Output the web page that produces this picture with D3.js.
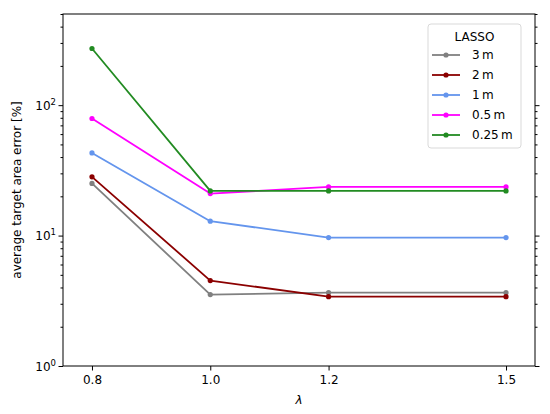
<!DOCTYPE html>
<html><head><meta charset="utf-8">
<script src="https://cdn.jsdelivr.net/npm/d3@7"></script>
<style>body{margin:0;background:#fff}svg{display:block}text{font-family:"DejaVu Sans",sans-serif}</style>
</head><body><svg id="c" width="550" height="414"></svg>
<script>
const lambdas = [0.8, 1.0, 1.2, 1.5];
const seriesNames = ["3\u2009m", "2\u2009m", "1\u2009m", "0.5\u2009m", "0.25\u2009m"];
const seriesColors = ["#808080", "#8b0000", "#6495ed", "#ff00ff", "#228b22"];
const err3m = [25.1, 3.53, 3.65, 3.65];
const err2m = [28.2, 4.52, 3.40, 3.40];
const err1m = [43, 12.9, 9.66, 9.66];
const err05m = [79, 21.0, 23.6, 23.6];
const err025m = [272, 22.0, 22.0, 22.0];
const xTickLabels = ["0.8", "1.0", "1.2", "1.5"];
const yMajor = [1, 10, 100];
const legendTitle = "LASSO";
const xLabel = "\u03bb";
const yLabel = "average target area error [%]";

const allSeries = [err3m, err2m, err1m, err05m, err025m];
const svg = d3.select("#c");
const L = 63, R = 535, T = 14, B = 366;
const x = d3.scaleLinear().domain([0.751, 1.549]).range([L, R]);
const y = d3.scaleLog().domain([1, 500]).range([B, T]);

// minor ticks
const minor = [];
for (let d = 1; d <= 100; d *= 10) for (let k = 2; k <= 9; k++) { const v = d * k; if (v <= 500) minor.push(v); }
const g = svg.append("g");
// left axis
const gl = g.append("g").attr("transform", `translate(${L},0)`);
gl.call(d3.axisLeft(y).tickValues(yMajor).tickSize(4.5).tickFormat(() => ""));
gl.append("g").call(d3.axisLeft(y).tickValues(minor).tickSize(2.5).tickFormat(""));
const gr = g.append("g").attr("transform", `translate(${R},0)`);
gr.call(d3.axisRight(y).tickValues(yMajor).tickSize(4.5).tickFormat(""));
gr.append("g").call(d3.axisRight(y).tickValues(minor).tickSize(2.5).tickFormat(""));
const gb = g.append("g").attr("transform", `translate(0,${B})`);
gb.call(d3.axisBottom(x).tickValues(lambdas).tickSize(4.5).tickFormat((d, i) => xTickLabels[i]));
g.selectAll(".domain").remove();
g.selectAll(".tick line").attr("stroke", "#000").attr("stroke-width", 1);
gb.selectAll(".tick text").attr("font-size", 12).attr("fill", "#000").attr("dy", "0.9em").attr("font-family", "DejaVu Sans");

// y labels with superscript
yMajor.forEach(v => {
  const t = svg.append("text").attr("x", 56).attr("y", y(v) + 4.5).attr("text-anchor", "end")
    .attr("font-size", 12).attr("fill", "#000");
  t.append("tspan").text("10");
  t.append("tspan").attr("font-size", 8.5).attr("dy", -5).text(Math.round(Math.log10(v)));
});

// frame
svg.append("rect").attr("x", L).attr("y", T).attr("width", R - L).attr("height", B - T)
  .attr("fill", "none").attr("stroke", "#000").attr("stroke-width", 1);

// lines
const clip = svg.append("clipPath").attr("id", "cp").append("rect").attr("x", L).attr("y", T).attr("width", R - L).attr("height", B - T);
const line = d3.line().x((d, i) => x(lambdas[i])).y(d => y(d));
const plot = svg.append("g").attr("clip-path", "url(#cp)");
allSeries.forEach((s, k) => {
  plot.append("path").datum(s).attr("d", line).attr("fill", "none")
    .attr("stroke", seriesColors[k]).attr("stroke-width", 1.8).attr("stroke-linejoin", "round");
  plot.selectAll(null).data(s).join("circle").attr("cx", (d, i) => x(lambdas[i])).attr("cy", d => y(d))
    .attr("r", 2.6).attr("fill", seriesColors[k]);
});

// legend
const lg = svg.append("g");
lg.append("rect").attr("x", 428).attr("y", 24).attr("width", 93).attr("height", 124).attr("rx", 3)
  .attr("fill", "#fff").attr("fill-opacity", 0.8).attr("stroke", "#d9d9d9").attr("stroke-width", 1);
lg.append("text").attr("x", 474.5).attr("y", 40.5).attr("text-anchor", "middle").attr("font-size", 12).attr("fill", "#000").text(legendTitle);
seriesNames.forEach((n, k) => {
  const yy = 55 + k * 20;
  lg.append("line").attr("x1", 432).attr("x2", 460).attr("y1", yy).attr("y2", yy)
    .attr("stroke", seriesColors[k]).attr("stroke-width", 1.8);
  lg.append("circle").attr("cx", 446).attr("cy", yy).attr("r", 2.6).attr("fill", seriesColors[k]);
  lg.append("text").attr("x", 472).attr("y", yy + 4.3).attr("font-size", 12).attr("fill", "#000").text(n);
});

// axis labels
svg.append("text").attr("x", 299).attr("y", 404).attr("text-anchor", "middle").attr("font-size", 12)
  .attr("font-style", "italic").attr("fill", "#000").text(xLabel);
svg.append("text").attr("transform", `translate(21,${(T + B) / 2}) rotate(-90)`).attr("text-anchor", "middle")
  .attr("font-size", 12).attr("fill", "#000").text(yLabel);
</script></body></html>
